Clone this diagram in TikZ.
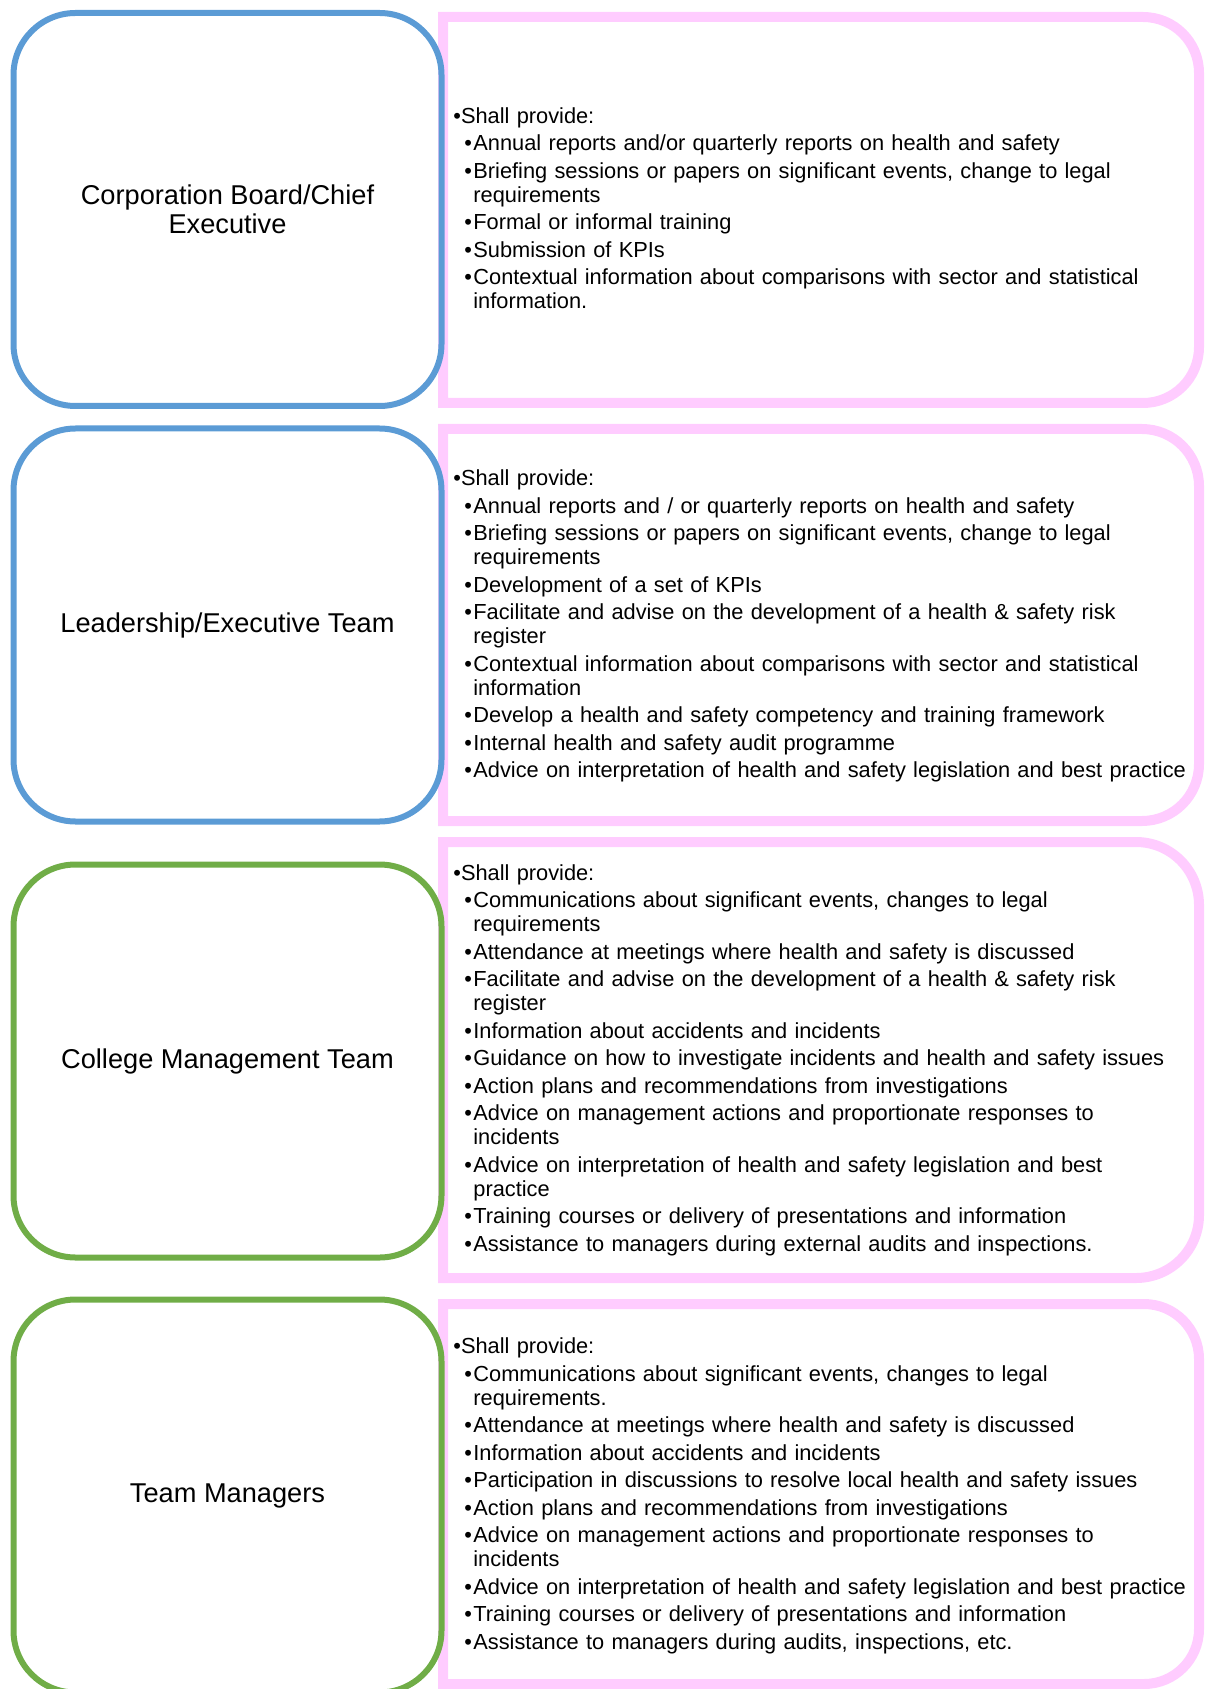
\documentclass[tikz,border=0pt]{standalone}
\usepackage{fontspec}
\setmainfont{Liberation Sans}
\usetikzlibrary{positioning}

\definecolor{boxblue}{RGB}{91,155,213}
\definecolor{boxgreen}{RGB}{112,173,71}
\definecolor{boxpink}{RGB}{255,204,255}

% pink frame, square on the left, round on the right: top, bottom, radius
\newcommand{\pframe}[3]{%
  \draw[pinkline] (443,-#1) -- ({1199-#3},-#1)
    arc[start angle=90,end angle=0,radius=#3] -- (1199,{-#2+#3})
    arc[start angle=0,end angle=-90,radius=#3] -- (443,-#2) -- cycle;}
\newcommand{\shall}{\textbullet Shall provide:}
\newcommand{\pitem}[1]{\par\hangindent=10pt\hangafter=1%
  \hspace*{5.5pt}\makebox[4.5pt][l]{\textbullet}#1\par}

\begin{document}
\begin{tikzpicture}[x=0.5pt,y=0.5pt]
\tikzstyle{pinkline}=[draw=boxpink, line width=5pt]
\tikzstyle{rolebox}=[line width=3pt, rounded corners=31pt, minimum width=214pt,
  minimum height=196.5pt, inner sep=0pt, align=center, font=\fontsize{13.6}{14.5}\selectfont]
\tikzstyle{dutylist}=[anchor=west, inner sep=0pt, text width=380pt, align=left,
  font=\fontsize{10.9}{12}\selectfont,
  execute at begin node={\setlength{\parskip}{1.75pt}\setlength{\parindent}{0pt}}]
\useasboundingbox (0,0) rectangle (1206,-1689);

% pink frames
\pframe{17}{403}{56}
\pframe{429}{821}{57}
\pframe{842}{1278}{63}
\pframe{1304}{1684}{55}

% roles
\draw (227.5,-209.5) node (r1) [rolebox,draw=boxblue] {Corporation Board/Chief\\Executive};
\draw (227.5,-625) node (r2) [rolebox,draw=boxblue] {Leadership/Executive Team};
\draw (227.5,-1061) node (r3) [rolebox,draw=boxgreen] {College Management Team};
\draw (227.5,-1496) node (r4) [rolebox,draw=boxgreen] {Team Managers};

% what each role is given
\draw (453,-208) node (d1) [dutylist] {\shall
  \pitem{Annual reports and/or quarterly reports on health and safety}
  \pitem{Briefing sessions or papers on significant events, change to legal\newline requirements}
  \pitem{Formal or informal training}
  \pitem{Submission of KPIs}
  \pitem{Contextual information about comparisons with sector and statistical\newline information.}};
\draw (453,-626) node (d2) [dutylist] {\shall
  \pitem{Annual reports and / or quarterly reports on health and safety}
  \pitem{Briefing sessions or papers on significant events, change to legal\newline requirements}
  \pitem{Development of a set of KPIs}
  \pitem{Facilitate and advise on the development of a health \& safety risk\newline register}
  \pitem{Contextual information about comparisons with sector and statistical\newline information}
  \pitem{Develop a health and safety competency and training framework}
  \pitem{Internal health and safety audit programme}
  \pitem{Advice on interpretation of health and safety legislation and best practice}};
\draw (453,-1060) node (d3) [dutylist] {\shall
  \pitem{Communications about significant events, changes to legal\newline requirements}
  \pitem{Attendance at meetings where health and safety is discussed}
  \pitem{Facilitate and advise on the development of a health \& safety risk\newline register}
  \pitem{Information about accidents and incidents}
  \pitem{Guidance on how to investigate incidents and health and safety issues}
  \pitem{Action plans and recommendations from investigations}
  \pitem{Advice on management actions and proportionate responses to\newline incidents}
  \pitem{Advice on interpretation of health and safety legislation and best\newline practice}
  \pitem{Training courses or delivery of presentations and information}
  \pitem{Assistance to managers during external audits and inspections.}};
\draw (453,-1496) node (d4) [dutylist] {\shall
  \pitem{Communications about significant events, changes to legal\newline requirements.}
  \pitem{Attendance at meetings where health and safety is discussed}
  \pitem{Information about accidents and incidents}
  \pitem{Participation in discussions to resolve local health and safety issues}
  \pitem{Action plans and recommendations from investigations}
  \pitem{Advice on management actions and proportionate responses to\newline incidents}
  \pitem{Advice on interpretation of health and safety legislation and best practice}
  \pitem{Training courses or delivery of presentations and information}
  \pitem{Assistance to managers during audits, inspections, etc.}};
\end{tikzpicture}
\end{document}
